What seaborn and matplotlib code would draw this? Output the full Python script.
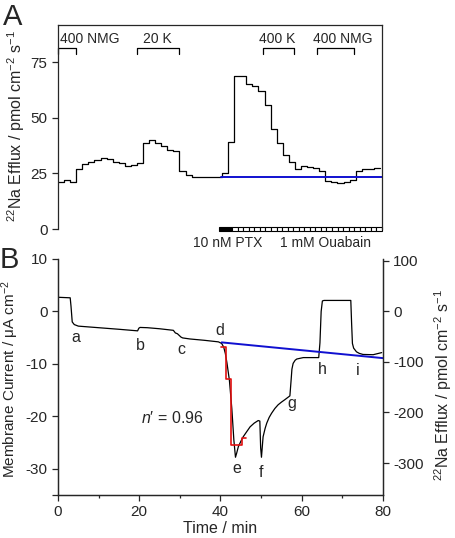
import numpy as np
import pandas as pd
import seaborn as sns
import matplotlib.pyplot as plt
from matplotlib.patches import Rectangle

# panel A: 22Na efflux, 1.5 min bins
bin_width = 1.5
efflux = [21.3, 21.9, 21.2, 27.1, 29.1, 30.3, 30.9, 32.1, 31.3, 30.1,
          29.5, 28.5, 28.6, 29.8, 38.8, 40.2, 38.7, 37.3, 35.5, 35.2,
          26.1, 24.1, 23.3, 23.2, 23.2, 23.2, 23.2,
          25.0, 39.1, 68.8, 68.8, 65.0, 64.3, 62.2, 55.7, 45.1, 38.7,
          33.4, 30.1, 27.1, 28.5, 28.0, 27.6, 25.9, 21.7, 21.3, 20.8,
          21.2, 22.0, 26.1, 26.8, 26.9, 27.3]
baseline_a = 23.3
brackets = [("400 NMG", 0, 4.4, 7.9), ("20 K", 19.5, 30, 24.6),
            ("400 K", 50.7, 58.3, 54.1), ("400 NMG", 64, 73.1, 70.3)]

# panel B: membrane current
t_cur = [0, 3.0, 3.2, 3.5, 4.0, 5.0, 10, 15, 19.6, 19.9, 20.2, 22, 25, 28.4,
         28.9, 29.4, 30.3, 30.7, 32.5, 36, 39.5, 40.3, 40.8, 41.2, 41.6,
         42.2, 42.8, 43.3, 43.7, 44.0, 44.4, 45.0, 45.6, 46.4, 47.3, 48.3,
         49.3, 49.7, 49.9, 50.1, 50.5, 51.0, 51.4, 52.0, 52.6, 53.4, 54.2,
         55.0, 55.9, 57.1, 57.4, 57.6, 57.9, 58.4, 58.8, 60.4, 64.2, 64.5,
         64.8, 65.1, 65.5, 68, 72.1, 72.3, 72.5, 72.8, 73.5, 74.2, 75.1,
         77.6, 79.7]
current = [2.7, 2.6, 1.0, -2.0, -2.5, -2.8, -3.1, -3.4, -3.7, -3.2, -3.05,
           -3.1, -3.3, -3.6, -4.1, -4.25, -4.9, -5.05, -5.25, -5.5, -5.8,
           -6.1, -6.8, -8.0, -9.8, -13.1, -18.5, -24.5, -27.8, -27.0, -25.8,
           -24.8, -23.9, -23.0, -22.0, -21.3, -20.8, -20.9, -26.0, -27.8,
           -23.9, -22.3, -21.3, -20.2, -19.4, -18.5, -17.8, -17.3, -16.8,
           -16.1, -13.1, -11.0, -9.9, -9.3, -9.07, -8.8, -8.8, -6.0, 0.0,
           2.0, 2.1, 2.1, 2.1, -2.3, -6.1, -7.0, -7.7, -8.0, -8.2, -8.25,
           -7.85]
base_t = [40.3, 80]
base_i = [-5.9, -8.9]
red_edges = [40.1, 41.3, 42.7, 45.2, 46.4]
red_vals = [-6.8, -12.8, -25.5, -24.2]
point_labels = ["a", "b", "c", "d", "e", "f", "g", "h", "i"]
label_x = [4.3, 20.3, 30.3, 39.9, 44.1, 50.1, 57.6, 65.1, 73.7]
label_y = [-5.8, -7.35, -8.2, -4.5, -30.8, -31.6, -18.4, -11.9, -12.1]

sns.set_style("ticks")
plt.rcParams['font.family'] = ['Liberation Sans', 'DejaVu Sans']
plt.rcParams['mathtext.fontset'] = 'custom'
plt.rcParams['mathtext.rm'] = 'Liberation Sans'
plt.rcParams['mathtext.it'] = 'Liberation Sans:italic'
plt.rcParams['axes.unicode_minus'] = False
plt.rcParams['axes.linewidth'] = 0.9
plt.rcParams['xtick.major.width'] = 0.9
plt.rcParams['ytick.major.width'] = 0.9

fig = plt.figure(figsize=(4.55, 5.38), dpi=100)
axA = fig.add_axes([0.1275, 0.5743, 0.712, 0.3792])
axB = fig.add_axes([0.1275, 0.0799, 0.714, 0.4387])

# ---- A
t_edges = np.arange(len(efflux) + 1) * bin_width
dfA = pd.DataFrame({"t": t_edges, "v": efflux + [efflux[-1]]})
sns.lineplot(data=dfA, x="t", y="v", ax=axA, color="black", lw=0.9,
             drawstyle="steps-post", estimator=None, sort=False)
sns.lineplot(x=[40.3, 80], y=[baseline_a, baseline_a], ax=axA, color="#1010d0",
             lw=1.4, estimator=None)
axA.set_xlim(0, 80)
axA.set_ylim(0, 91.7)
axA.set_yticks([0, 25, 50, 75])
axA.set_xticks([])
axA.spines['bottom'].set_visible(False)
axA.tick_params(axis='y', labelsize=11, length=4, direction='out')
axA.set_xlabel("")
axA.set_ylabel(r"$^{22}$Na Efflux / pmol cm$^{-2}$ s$^{-1}$", fontsize=11.5)
axA.yaxis.set_label_coords(-0.095, 0.505)

for txt, x0, x1, xt in brackets:
    axA.plot([x0, x0, x1, x1], [78.7, 81.4, 81.4, 78.7], color="black", lw=0.9,
             clip_on=False)
    axA.text(xt, 83.6, txt, ha="center", va="baseline", fontsize=10)

# PTX / ouabain bar
axA.add_patch(Rectangle((39.7, -1.1), 3.3, 2.2, facecolor="black",
                        edgecolor="black", lw=0.8, clip_on=False))
n_cells = 27
w = (80 - 43) / n_cells
for k in range(n_cells):
    axA.add_patch(Rectangle((43 + k * w, -1.1), w, 2.2, facecolor="white",
                            edgecolor="black", lw=0.8, clip_on=False))
axA.text(41.9, -3.0, "10 nM PTX", ha="center", va="top", fontsize=10)
axA.text(66.0, -3.0, "1 mM Ouabain", ha="center", va="top", fontsize=10)

# ---- B
sns.lineplot(x=t_cur, y=current, ax=axB, color="black", lw=0.9,
             estimator=None, sort=False)
sns.lineplot(x=base_t, y=base_i, ax=axB, color="#1010d0", lw=1.4,
             estimator=None)
sns.lineplot(x=red_edges, y=red_vals + [red_vals[-1]], ax=axB, color="#e01010",
             lw=1.2, drawstyle="steps-post", estimator=None, sort=False)
for s, x, y in zip(point_labels, label_x, label_y):
    axB.text(x, y, s, ha="center", va="baseline", fontsize=11.5)
axB.text(28.2, -21.3, "$n$\u2032 = 0.96", ha="center", va="baseline",
         fontsize=11.5)

axB.set_xlim(0, 80)
axB.set_ylim(-35, 10)
axB.set_xticks([0, 20, 40, 60, 80])
axB.set_xticks([10, 30, 50, 70], minor=True)
axB.set_yticks([10, 0, -10, -20, -30])
axB.set_yticks([-35], minor=True)
axB.tick_params(axis='both', which='major', labelsize=11, length=4)
axB.tick_params(axis='x', which='minor', length=2.5, width=0.9)
axB.tick_params(axis='y', which='minor', length=4, width=0.9)
axB.spines['top'].set_visible(False)
axB.set_xlabel("Time / min", fontsize=11.5, labelpad=1)
axB.set_ylabel(r"Membrane Current / $\mathrm{\mu}$A cm$^{-2}$", fontsize=11)
axB.yaxis.set_label_coords(-0.115, 0.49)

axR = axB.twinx()
axR.set_ylim(-363, 103)
axR.set_yticks([100, 0, -100, -200, -300])
axR.tick_params(axis='y', labelsize=11, length=4)
axR.spines['top'].set_visible(False)
axR.set_ylabel(r"$^{22}$Na Efflux / pmol cm$^{-2}$ s$^{-1}$", fontsize=11.5)
axR.yaxis.set_label_coords(1.151, 0.466)

fig.text(0.006, 1 - 25 / 538, "A", fontsize=21, va="baseline", ha="left")
fig.text(0.0, 1 - 268 / 538, "B", fontsize=21, va="baseline", ha="left")

fig.savefig("out.png", dpi=100)
